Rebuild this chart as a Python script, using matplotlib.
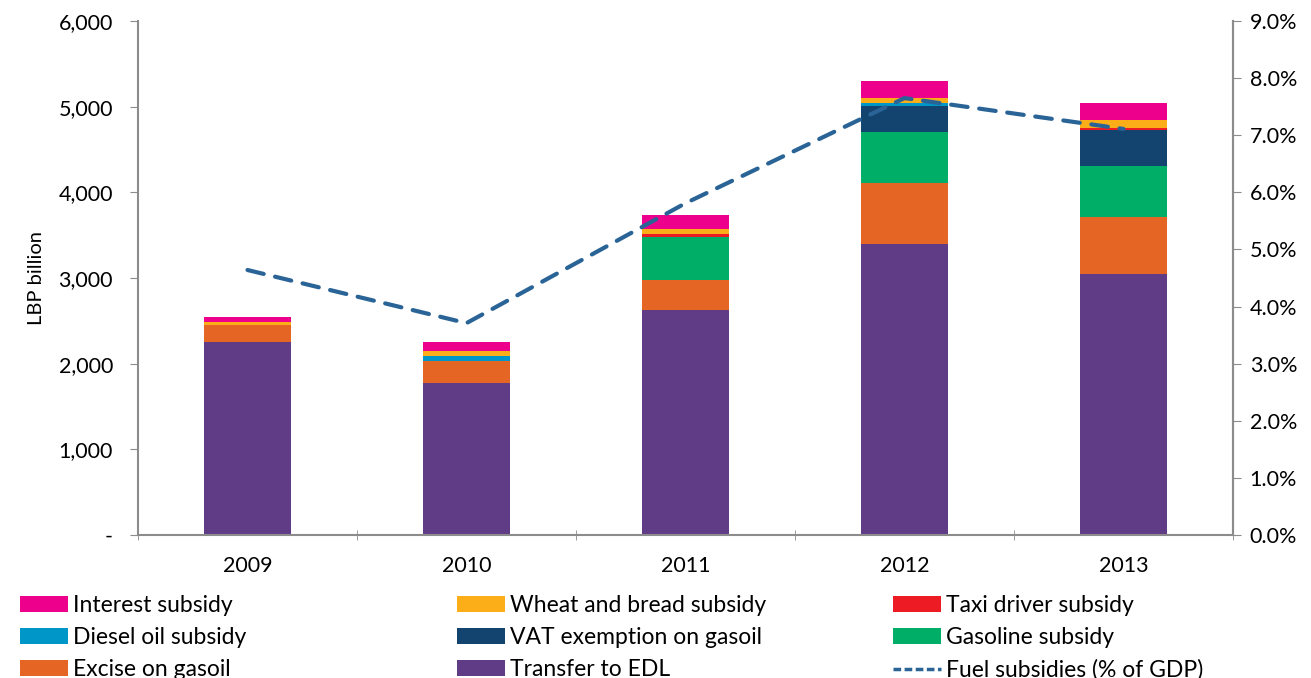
import matplotlib.pyplot as plt
import matplotlib.ticker as mticker
from matplotlib.lines import Line2D
from matplotlib.patches import Patch

plt.rcParams['font.family'] = ['Lato', 'DejaVu Sans']

years = ['2009', '2010', '2011', '2012', '2013']

# LBP billion, stacked bottom -> top
transfer_edl = [2256, 1775, 2630, 3397, 3050]
excise_gasoil = [200, 255, 343, 708, 658]
gasoline = [0, 0, 509, 599, 596]
vat_gasoil = [0, 0, 0, 307, 424]
diesel_oil = [0, 58, 0, 32, 0]
taxi_driver = [0, 0, 28, 0, 28]
wheat_bread = [25, 58, 58, 58, 85]
interest = [60, 110, 167, 199, 199]

# fuel subsidies, % of GDP
fuel_pct = [4.64, 3.71, 5.81, 7.65, 7.11]

series = [
    ('Transfer to EDL', transfer_edl, '#613c86'),
    ('Excise on gasoil', excise_gasoil, '#e56524'),
    ('Gasoline subsidy', gasoline, '#00ae68'),
    ('VAT exemption on gasoil', vat_gasoil, '#134470'),
    ('Diesel oil subsidy', diesel_oil, '#0096c8'),
    ('Taxi driver subsidy', taxi_driver, '#ed1c24'),
    ('Wheat and bread subsidy', wheat_bread, '#fbae17'),
    ('Interest subsidy', interest, '#ec008c'),
]
colors = {name: c for name, _, c in series}

fig = plt.figure(figsize=(13.11, 6.78), dpi=100)
ax = fig.add_axes([138 / 1311, 1 - 535 / 678, 1095 / 1311, 514 / 678])

x = range(len(years))
bottom = [0] * len(years)
for name, vals, c in series:
    ax.bar(x, vals, 0.4, bottom=bottom, color=c, edgecolor='none')
    bottom = [b + v for b, v in zip(bottom, vals)]

ax.set_xlim(-0.5, 4.5)
ax.set_ylim(0, 6000)
ax.set_yticks(range(0, 6001, 1000))
ax.yaxis.set_major_formatter(mticker.FuncFormatter(lambda v, p: '-' if v == 0 else f'{v:,.0f}'))
ax.set_xticks(x)
ax.set_xticklabels(years)
ax.set_xticks([i - 0.5 for i in range(6)], minor=True)
ax.tick_params(axis='x', which='major', length=0, pad=15, labelsize=15.5)
ax.tick_params(axis='x', which='minor', length=7, direction='inout', color='#8c8c8c')
ax.tick_params(axis='y', length=6, direction='out', color='#8c8c8c', labelsize=15.5, pad=12)
ax.set_ylabel('LBP billion', fontsize=14.5, labelpad=10)
ax.spines['top'].set_visible(False)
for s in ['left', 'bottom', 'right']:
    ax.spines[s].set_color('#8c8c8c')
    ax.spines[s].set_linewidth(1.5)

ax2 = ax.twinx()
ax2.plot(x, fuel_pct, color='#2a6496', linestyle=(0, (4, 2.8)), linewidth=3,
         dash_capstyle='round')
ax2.set_ylim(0, 9)
ax2.set_yticks(range(0, 10))
ax2.yaxis.set_major_formatter(mticker.FuncFormatter(lambda v, p: f'{v:.1f}%'))
ax2.tick_params(axis='y', length=6, direction='out', color='#8c8c8c', labelsize=15.5, pad=6)
ax2.spines['top'].set_visible(False)
ax2.spines['left'].set_visible(False)
ax2.spines['bottom'].set_visible(False)
ax2.spines['right'].set_color('#8c8c8c')
ax2.spines['right'].set_linewidth(1.5)

# legend, three columns placed by hand
cols = [
    ['Interest subsidy', 'Diesel oil subsidy', 'Excise on gasoil'],
    ['Wheat and bread subsidy', 'VAT exemption on gasoil', 'Transfer to EDL'],
    ['Taxi driver subsidy', 'Gasoline subsidy', None],
]
col_x = [20 / 1311, 457 / 1311, 893 / 1311]
for cx, names in zip(col_x, cols):
    handles, labels = [], []
    for n in names:
        if n is None:
            handles.append(Line2D([], [], color='#2a6496', linestyle=(0, (2.2, 1)), linewidth=2.5))
            labels.append('Fuel subsidies (% of GDP)')
        else:
            handles.append(Patch(facecolor=colors[n], edgecolor='none'))
            labels.append(n)
    fig.legend(handles, labels, loc='upper left', bbox_to_anchor=(cx, 1 - 595 / 678),
               frameon=False, fontsize=16.5, handlelength=2.1, handleheight=0.65,
               handletextpad=0.2, labelspacing=0.48, borderaxespad=0, borderpad=0)

fig.savefig('out.png', dpi=100)
